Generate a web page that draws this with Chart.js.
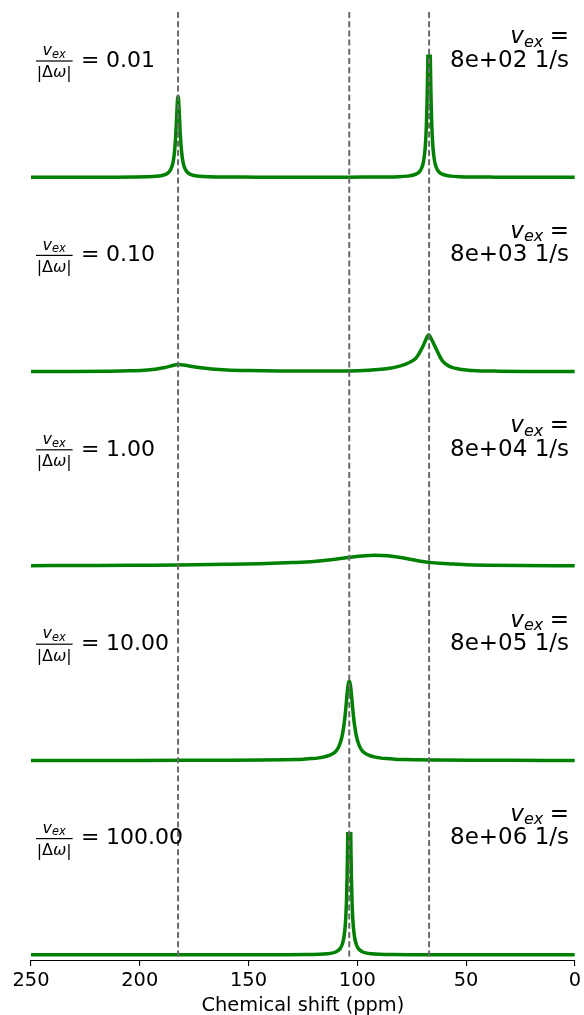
<!DOCTYPE html>
<html>
<head>
<meta charset="utf-8">
<script src="https://cdn.jsdelivr.net/npm/chart.js@4.4.1/dist/chart.umd.min.js"></script>
<style>
  html, body { margin: 0; padding: 0; background: #ffffff; }
  #wrap { position: relative; width: 584px; height: 1015px; }
</style>
</head>
<body>
<div id="wrap"><canvas id="c" width="584" height="1015"></canvas></div>
<script>
// Two-site chemical exchange: one spectrum per exchange rate, slow (top) to fast (bottom).
const ratioLabels = ['0.01', '0.10', '1.00', '10.00', '100.00'];
const rateLabels = ['8e+02', '8e+03', '8e+04', '8e+05', '8e+06'];
const siteShifts = [182.4, 103.7, 67.0];          // ppm: site A, population-weighted mean, site B
const xTickValues = [250, 200, 150, 100, 50, 0];

// v_ex = 8e+02 1/s
const ppm1 = [250, 232.4, 212.4, 202.4, 196.4, 192.4, 190.4, 188.4, 187.4, 186.4, 185.9, 185.4, 184.9, 184.4, 184.15, 183.9, 183.65, 183.4, 183.2, 183.0, 182.8, 182.6, 182.4,
  182.2, 182.0, 181.8, 181.6, 181.4, 181.15, 180.9, 180.65, 180.4, 179.9, 179.4, 178.9, 178.4, 177.4, 176.4, 174.4, 172.4, 168.4, 162.4, 152.4, 140, 125, 110, 97, 87, 81, 77, 75, 73, 72, 71, 70.5, 70, 69.5, 69, 68.75, 68.5, 68.25, 68, 67.8, 67.6, 67.4, 67.2, 67,
  66.8, 66.6, 66.4, 66.2, 66, 65.75, 65.5, 65.25, 65, 64.5, 64, 63.5, 63, 62, 61, 59, 57, 53, 47, 37, 17, 0];
const int1 = [0.0002, 0.0003, 0.0009, 0.002, 0.004, 0.0079, 0.0122, 0.0215, 0.0305, 0.0464, 0.0593, 0.0782, 0.107, 0.153, 0.187, 0.231, 0.288, 0.361, 0.432, 0.509, 0.583, 0.639, 0.66,
  0.639, 0.583, 0.509, 0.432, 0.361, 0.288, 0.231, 0.187, 0.153, 0.107, 0.0782, 0.0593, 0.0464, 0.0305, 0.0215, 0.0122, 0.008, 0.0041, 0.0021, 0.0011, 0.0008, 0.0006, 0.0008, 0.0012, 0.0024, 0.0047, 0.0092, 0.0144, 0.0253, 0.0362, 0.0558, 0.072, 0.0963, 0.1347, 0.2, 0.2506, 0.321, 0.421, 0.566, 0.725, 0.928, 1.16, 1.365, 1.45,
  1.365, 1.16, 0.928, 0.725, 0.566, 0.421, 0.321, 0.2506, 0.2, 0.1347, 0.0963, 0.072, 0.0558, 0.0362, 0.0253, 0.0144, 0.0092, 0.0047, 0.0023, 0.001, 0.0004, 0.0002];

// v_ex = 8e+03 1/s
const ppm2 = [250, 230, 215, 205, 198, 193, 189, 186, 184, 182.4, 181, 179, 176, 172, 167, 160, 150, 135, 120, 104, 95, 89, 85, 81, 78, 75, 73, 71.5, 70, 69, 68, 67.2, 66.5, 65.5, 64, 62.5, 61, 59, 56.5, 53.5, 50, 45, 35, 20, 0];
const int2 = [0.001, 0.002, 0.004, 0.007, 0.012, 0.02, 0.032, 0.045, 0.054, 0.058, 0.057, 0.052, 0.042, 0.031, 0.022, 0.014, 0.009, 0.006, 0.005, 0.006, 0.011, 0.019, 0.028, 0.043, 0.06, 0.085, 0.11, 0.15, 0.2, 0.24, 0.28, 0.30, 0.285, 0.25, 0.195, 0.14, 0.09, 0.058, 0.035, 0.022, 0.014, 0.008, 0.004, 0.002, 0.001];

// v_ex = 8e+04 1/s
const ppm3 = [250, 220, 200, 182, 160, 145, 130, 120, 110, 104, 98, 92, 86, 80, 75, 70, 67, 62, 57, 50, 40, 25, 0];
const int3 = [0.003, 0.005, 0.007, 0.009, 0.014, 0.019, 0.028, 0.037, 0.055, 0.07, 0.082, 0.088, 0.084, 0.07, 0.053, 0.037, 0.03, 0.022, 0.017, 0.011, 0.007, 0.004, 0.002];

// v_ex = 8e+05 1/s
const ppm4 = [250, 203.7, 178.7, 158.7, 143.7, 133.7, 128.7, 124.7, 120.7, 117.7, 115.7, 113.7, 111.7, 110.7, 109.7, 108.7, 107.7, 107.2, 106.7, 106.2, 105.7, 105.45, 105.2, 104.95, 104.7, 104.45, 104.2, 103.95, 103.7,
  103.45, 103.2, 102.95, 102.7, 102.45, 102.2, 101.95, 101.7, 101.2, 100.7, 100.2, 99.7, 98.7, 97.7, 96.7, 95.7, 93.7, 91.7, 89.7, 86.7, 82.7, 78.7, 73.7, 63.7, 48.7, 28.7, 3.7, 0];
const int4 = [0.0003, 0.0006, 0.001, 0.0018, 0.0033, 0.0055, 0.0075, 0.01, 0.015, 0.021, 0.027, 0.036, 0.05, 0.061, 0.078, 0.105, 0.15, 0.183, 0.225, 0.28, 0.35, 0.393, 0.44, 0.492, 0.54, 0.582, 0.615, 0.637, 0.645,
  0.637, 0.615, 0.582, 0.54, 0.492, 0.44, 0.393, 0.35, 0.28, 0.225, 0.183, 0.15, 0.105, 0.078, 0.061, 0.05, 0.036, 0.027, 0.021, 0.015, 0.01, 0.0075, 0.0055, 0.0033, 0.0018, 0.001, 0.0006, 0.0006];

// v_ex = 8e+06 1/s
const ppm5 = [250, 203.7, 153.7, 133.7, 123.7, 117.7, 113.7, 111.7, 109.7, 108.7, 107.7, 107.2, 106.7, 106.2, 105.7, 105.45, 105.2, 104.95, 104.7, 104.5, 104.3, 104.1, 103.9, 103.7,
  103.5, 103.3, 103.1, 102.9, 102.7, 102.45, 102.2, 101.95, 101.7, 101.2, 100.7, 100.2, 99.7, 98.7, 97.7, 95.7, 93.7, 89.7, 83.7, 73.7, 53.7, 3.7, 0];
const int5 = [0.0001, 0.0001, 0.0004, 0.001, 0.0023, 0.0047, 0.0093, 0.0144, 0.0255, 0.0365, 0.0565, 0.0731, 0.0981, 0.1381, 0.2074, 0.2621, 0.3398, 0.4536, 0.625, 0.824, 1.095, 1.432, 1.757, 1.9,
  1.757, 1.432, 1.095, 0.824, 0.625, 0.4536, 0.3398, 0.2621, 0.2074, 0.1381, 0.0981, 0.0731, 0.0565, 0.0365, 0.0255, 0.0144, 0.0093, 0.0047, 0.0023, 0.001, 0.0004, 0.0001, 0.0001];

const panelPpm = [ppm1, ppm2, ppm3, ppm4, ppm5];
const panelIntensity = [int1, int2, int3, int4, int5];

// ---- layout (pixels) ----
const W = 584, H = 1015;
const PAD_LEFT = 31, PAD_RIGHT = 8, PAD_TOP = 10;
const X_AXIS_H = 54;
const AREA_TOP = PAD_TOP, AREA_BOTTOM = H - X_AXIS_H;
const PANEL_STEP = 194.4, PANEL_H = 129;
const Y_LO = -0.05, Y_HI = 1.0;               // visible intensity range of each panel
const DASH_TOP = 12, DASH_BOTTOM = 957;
const FONT = '"DejaVu Sans", "Liberation Sans", sans-serif';
const GREEN = '#008000';

function panelBottom(k) { return AREA_BOTTOM - (4 - k) * PANEL_STEP; }

// Each panel gets its own hidden y axis whose limits place [Y_LO, Y_HI] in its band.
const scales = {};
for (let k = 0; k < 5; k++) {
  const ppu = PANEL_H / (Y_HI - Y_LO);
  const bot = panelBottom(k), top = bot - PANEL_H;
  scales['y' + k] = {
    type: 'linear', display: false,
    min: Y_LO - (AREA_BOTTOM - bot) / ppu,
    max: Y_HI + (top - AREA_TOP) / ppu
  };
}
{
  const ppu = DASH_BOTTOM - DASH_TOP;
  scales.yd = { type: 'linear', display: false,
    min: 0 - (AREA_BOTTOM - DASH_BOTTOM) / ppu,
    max: 1 + (DASH_TOP - AREA_TOP) / ppu };
}
scales.x = {
  type: 'linear', min: 0, max: 250, reverse: true,
  afterFit: s => { s.height = X_AXIS_H; },
  afterBuildTicks: s => { s.ticks = xTickValues.map(v => ({ value: v })); },
  ticks: { color: '#000', font: { family: FONT, size: 19.4 }, padding: 3, maxRotation: 0, autoSkip: false,
           callback: v => String(v) },
  grid: { display: true, drawOnChartArea: false, drawTicks: true, tickLength: 5, color: '#000', lineWidth: 1.1 },
  border: { display: true, color: '#000', width: 1.1 },
  title: { display: true, text: 'Chemical shift (ppm)', color: '#000',
           font: { family: FONT, size: 19.4 }, padding: { top: 0, bottom: -3 } }
};

const datasets = [];
siteShifts.forEach(s => {
  datasets.push({
    data: [{ x: s, y: 1 }, { x: s, y: 0 }],
    yAxisID: 'yd', borderColor: '#6a6a6a', borderWidth: 2, borderDash: [6, 3.2],
    pointRadius: 0, showLine: true, clip: false, order: 0
  });
});
for (let k = 0; k < 5; k++) {
  datasets.push({
    data: panelPpm[k].map((p, i) => ({ x: p, y: panelIntensity[k][i] })),
    yAxisID: 'y' + k, panel: k,
    borderColor: GREEN, borderWidth: 3.5, pointRadius: 0, showLine: true,
    cubicInterpolationMode: 'monotone', order: 1
  });
}

// Keeps each spectrum inside its own panel band.
const panelClip = {
  id: 'panelClip',
  beforeDatasetDraw(chart, args) {
    const ds = chart.data.datasets[args.index];
    if (ds.panel === undefined) return;
    const ys = chart.scales['y' + ds.panel];
    const top = ys.getPixelForValue(Y_HI), bot = ys.getPixelForValue(Y_LO);
    const ca = chart.chartArea, ctx = chart.ctx;
    ctx.save();
    ctx.beginPath();
    ctx.rect(ca.left - 4, top, ca.right - ca.left + 8, bot - top);
    ctx.clip();
  },
  afterDatasetDraw(chart, args) {
    if (chart.data.datasets[args.index].panel !== undefined) chart.ctx.restore();
  }
};

// Panel annotations: v_ex/|Δω| ratio on the left, exchange rate on the right.
function drawLabels(ctx, k) {
  const dy = k * PANEL_STEP;
  ctx.save();
  ctx.fillStyle = '#000';
  ctx.textBaseline = 'alphabetic';
  ctx.textAlign = 'left';

  // fraction  v_ex / |Δω|
  const cx = 54.2;
  ctx.font = 'italic 16px ' + FONT;
  const wv = ctx.measureText('v').width;
  ctx.font = 'italic 11.4px ' + FONT;
  const wex = ctx.measureText('ex').width;
  let x = cx - (wv + wex) / 2;
  ctx.font = 'italic 16px ' + FONT;
  ctx.fillText('v', x, 55.2 + dy);
  ctx.font = 'italic 11.4px ' + FONT;
  ctx.fillText('ex', x + wv, 57.8 + dy);
  ctx.fillRect(36, 60.4 + dy, 36.6, 1.2);

  ctx.font = '16px ' + FONT;
  const wbar = ctx.measureText('|').width, wd = ctx.measureText('Δ').width;
  ctx.font = 'italic 16px ' + FONT;
  const wo = ctx.measureText('ω').width;
  x = cx - (2 * wbar + wd + wo) / 2;
  ctx.font = '16px ' + FONT;
  ctx.fillText('|', x, 78 + dy);
  ctx.fillText('Δ', x + wbar, 77.3 + dy);
  ctx.font = 'italic 16px ' + FONT;
  ctx.fillText('ω', x + wbar + wd, 77.3 + dy);
  ctx.font = '16px ' + FONT;
  ctx.fillText('|', x + wbar + wd + wo, 78 + dy);

  ctx.font = '22px ' + FONT;
  ctx.fillText('=', 81, 66.7 + dy);
  ctx.fillText(ratioLabels[k], 106, 66.7 + dy);

  // right side: "v_ex =" over "<rate> 1/s"
  ctx.textAlign = 'right';
  ctx.font = '23px ' + FONT;
  ctx.fillText(rateLabels[k] + ' 1/s', 569, 66.7 + dy);
  ctx.fillText('=', 569, 43.3 + dy);
  const weq = ctx.measureText('=').width;
  ctx.font = 'italic 16px ' + FONT;
  const xr = 569 - weq - 6.5;
  ctx.fillText('ex', xr, 46.8 + dy);
  const wex2 = ctx.measureText('ex').width;
  ctx.font = 'italic 23px ' + FONT;
  ctx.fillText('v', xr - wex2, 43.3 + dy);
  ctx.restore();
}

const panelLabels = {
  id: 'panelLabels',
  afterDraw(chart) {
    for (let k = 0; k < 5; k++) drawLabels(chart.ctx, k);
  }
};

new Chart(document.getElementById('c'), {
  type: 'scatter',
  data: { datasets },
  options: {
    responsive: false, animation: false, devicePixelRatio: 1,
    layout: { padding: { left: PAD_LEFT, right: PAD_RIGHT, top: PAD_TOP, bottom: 0 }, autoPadding: false },
    plugins: { legend: { display: false }, tooltip: { enabled: false } },
    scales
  },
  plugins: [panelClip, panelLabels]
});
</script>
</body>
</html>
